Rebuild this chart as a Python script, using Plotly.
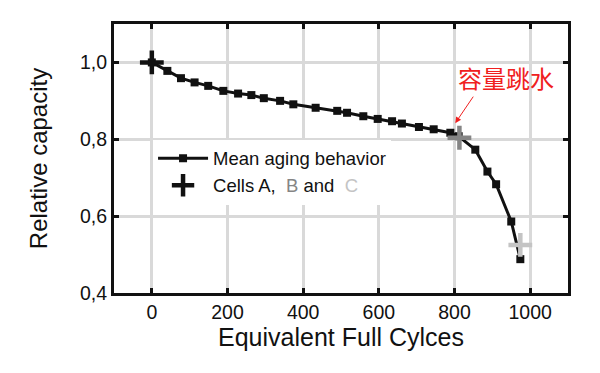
import plotly.graph_objects as go

# Mean aging behavior
cycles = [0, 41, 77, 113, 149, 189, 228, 263, 296, 339, 374, 433, 490, 516,
          559, 597, 635, 661, 706, 745, 789, 811, 855, 887, 910, 950, 974]
capacity = [1.000, 0.978, 0.959, 0.948, 0.939, 0.926, 0.919, 0.915, 0.907, 0.900,
            0.891, 0.882, 0.874, 0.869, 0.860, 0.853, 0.847, 0.841, 0.832, 0.826,
            0.817, 0.808, 0.773, 0.716, 0.683, 0.586, 0.488]

# Cells A, B, C
cell_names = ["A", "B", "C"]
cell_cycles = [0, 813, 974]
cell_capacity = [1.000, 0.804, 0.525]
cell_colors = ["#111111", "#858585", "#c4c4c4"]

x_ticks = [0, 200, 400, 600, 800, 1000]
y_ticks = [0.4, 0.6, 0.8, 1.0]
y_ticklabels = ["0,4", "0,6", "0,8", "1,0"]

font = "Liberation Sans, Arial, sans-serif"

fig = go.Figure()
fig.add_trace(go.Scatter(
    x=cycles, y=capacity, mode="lines+markers", name="Mean aging behavior",
    line=dict(color="#111111", width=3),
    marker=dict(symbol="square", size=8, color="#111111"),
))
for i, (n, cx, cy, col) in enumerate(zip(cell_names, cell_cycles, cell_capacity, cell_colors)):
    fig.add_trace(go.Scatter(
        x=[cx], y=[cy], mode="markers",
        name="Cells A,  <span style='color:#858585'>B</span> and  <span style='color:#c4c4c4'>C</span>",
        showlegend=(i == 0),
        marker=dict(symbol="cross-thin", size=17, line=dict(color=col, width=4.5)),
    ))

fig.add_annotation(x=802, y=0.842, ax=19, ay=-28, xref="x", yref="y",
                   text="", showarrow=True, arrowhead=2, arrowsize=1.2,
                   arrowwidth=1, arrowcolor="#f02020")
fig.add_annotation(x=937, y=0.962, xref="x", yref="y", text="容量跳水",
                   showarrow=False,
                   font=dict(family="Noto Sans CJK SC", size=24, color="#f02020"))

axis_common = dict(showline=True, linewidth=3, linecolor="#111111", mirror="ticks",
                   ticks="inside", ticklen=5, tickwidth=3, tickcolor="#111111",
                   showgrid=True, gridcolor="#d9d9d9", gridwidth=3, zeroline=False,
                   tickfont=dict(family=font, size=19.5, color="#111111"))

fig.update_xaxes(range=[-100, 1100], tickvals=x_ticks,
                 title=dict(text="Equivalent Full Cylces", font=dict(family=font, size=25, color="#111111"), standoff=6),
                 **axis_common)
fig.update_yaxes(range=[0.4, 1.1], tickvals=y_ticks, ticktext=y_ticklabels,
                 title=dict(text="Relative capacity", font=dict(family=font, size=24, color="#111111"), standoff=26),
                 **axis_common)

fig.update_layout(
    width=600, height=373,
    margin=dict(l=106, r=40, t=16, b=88),
    paper_bgcolor="white", plot_bgcolor="white",
    font=dict(family=font, size=18, color="#111111"),
    legend=dict(x=0.086, y=0.57, xanchor="left", yanchor="top",
                bgcolor="white", borderwidth=0, itemwidth=50,
                font=dict(family=font, size=18.5, color="#111111"),
                tracegroupgap=0),
)

fig.write_html("out.html")
